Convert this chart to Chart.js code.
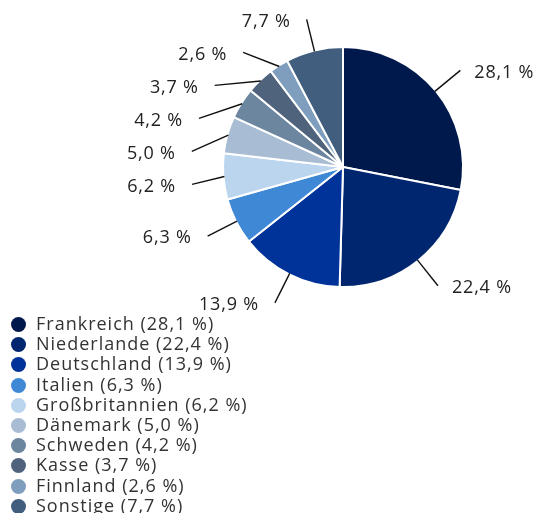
<!DOCTYPE html>
<html>
<head>
<meta charset="utf-8">
<script src="https://cdn.jsdelivr.net/npm/chart.js@4"></script>
<style>
  body { margin: 0; background: #fff; }
  #wrap { position: relative; width: 537px; height: 513px; }
  #legend { position: absolute; left: 11px; top: 313px; font-family: "Open Sans", sans-serif; font-size: 18px; letter-spacing: 1px; color: #333; }
  #legend div { height: 20.2px; line-height: 20.2px; white-space: nowrap; }
  #legend span { display: inline-block; width: 15px; height: 15px; border-radius: 50%; vertical-align: -2px; margin-right: 10px; }
</style>
</head>
<body>
<div id="wrap">
  <canvas id="canvasPie" width="537" height="513"></canvas>
  <div id="legend"></div>
</div>
<script>
var countries = ['Frankreich', 'Niederlande', 'Deutschland', 'Italien', 'Großbritannien',
                 'Dänemark', 'Schweden', 'Kasse', 'Finnland', 'Sonstige'];
var shares = [28.1, 22.4, 13.9, 6.3, 6.2, 5.0, 4.2, 3.7, 2.6, 7.7];
var colours = ['#00194c', '#00266f', '#003399', '#3f88d6', '#bcd5ee',
               '#a8bdd3', '#6c86a0', '#4f647c', '#7f9ebd', '#425e7e'];

function fmt(v) {
    return v.toFixed(1).replace('.', ',') + ' %';
}

// legend as html
var legend = document.getElementById('legend');
countries.forEach(function(c, i) {
    var row = document.createElement('div');
    row.innerHTML = '<span style="background:' + colours[i] + '"></span>' + c + ' (' + fmt(shares[i]) + ')';
    legend.appendChild(row);
});

// outside labels with leader lines, left side labels pushed apart
var outLabels = {
    id: 'outLabels',
    afterDatasetsDraw: function(chart) {
        var ctx = chart.ctx;
        var arcs = chart.getDatasetMeta(0).data;
        var items = arcs.map(function(a, i) {
            var mid = (a.startAngle + a.endAngle) / 2;
            var r = a.outerRadius;
            return {
                i: i, cx: a.x, cy: a.y, r: r,
                sx: a.x + Math.cos(mid) * (r - 1),
                sy: a.y + Math.sin(mid) * (r - 1),
                ex: a.x + Math.cos(mid) * (r + 32),
                ey: a.y + Math.sin(mid) * (r + 32),
                left: Math.cos(mid) < 0
            };
        });
        var left = items.filter(function(o) { return o.left; }).sort(function(a, b) { return a.ey - b.ey; });
        var prev = -1e9;
        left.forEach(function(o) {
            o.ey = Math.max(o.ey, prev + 33);
            prev = o.ey;
            var R = o.r + 32, dy = o.ey - o.cy;
            o.ex = o.cx - Math.sqrt(Math.max(0, R * R - dy * dy));
        });
        ctx.save();
        ctx.strokeStyle = '#111';
        ctx.lineWidth = 1.4;
        ctx.fillStyle = '#222';
        ctx.font = '18px "Open Sans"';
        ctx.letterSpacing = '0.8px';
        ctx.textBaseline = 'middle';
        items.forEach(function(o) {
            ctx.beginPath();
            ctx.moveTo(o.sx, o.sy);
            ctx.lineTo(o.ex, o.ey);
            ctx.stroke();
            ctx.textAlign = o.left ? 'right' : 'left';
            ctx.fillText(fmt(shares[o.i]), o.left ? o.ex - 16 : o.ex + 14, o.ey + 2);
        });
        ctx.restore();
    }
};

var ctx = document.getElementById('canvasPie').getContext('2d');
var chart = new Chart(ctx, {
    type: 'pie',
    data: {
        labels: countries,
        datasets: [{
            data: shares,
            backgroundColor: colours,
            borderColor: '#fff',
            borderWidth: 2
        }]
    },
    options: {
        responsive: false,
        animation: false,
        layout: { padding: { left: 222, right: 73, top: 46, bottom: 225 } },
        plugins: {
            legend: { display: false },
            tooltip: { enabled: false }
        }
    },
    plugins: [outLabels]
});
</script>
</body>
</html>
